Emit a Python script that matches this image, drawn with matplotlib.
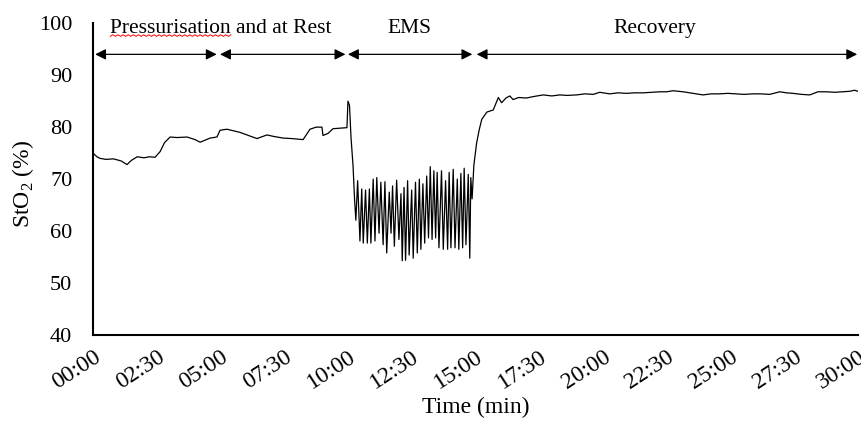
import numpy as np
import matplotlib.pyplot as plt

plt.rcParams['font.family'] = ['Liberation Serif', 'DejaVu Serif']
plt.rcParams['mathtext.fontset'] = 'custom'
plt.rcParams['mathtext.rm'] = 'Liberation Serif'

# Data (time in minutes, StO2 in %)
rest_t = [0.0, 0.15, 0.27, 0.5, 0.8, 1.1, 1.33, 1.5, 1.73, 2.0, 2.2, 2.43, 2.63, 2.8,
          3.02, 3.3, 3.69, 4.0, 4.2, 4.4, 4.59, 4.86, 4.98, 5.25, 5.5, 5.76, 6.1,
          6.43, 6.82, 7.1, 7.45, 7.8, 8.24, 8.35, 8.51, 8.75, 8.98, 9.02, 9.22,
          9.41, 9.7, 9.96, 10.0, 10.06, 10.12, 10.2, 10.26, 10.31]
rest_v = [75.0, 74.3, 74.0, 73.8, 73.9, 73.5, 72.8, 73.6, 74.3, 74.1, 74.3, 74.2, 75.3, 77.0,
          78.1, 78.0, 78.1, 77.6, 77.1, 77.5, 77.9, 78.1, 79.4, 79.6, 79.3, 79.0, 78.4,
          77.8, 78.5, 78.2, 77.9, 77.8, 77.6, 78.4, 79.6, 80.0, 80.0, 78.4, 78.8,
          79.7, 79.8, 79.9, 85.0, 84.2, 78.0, 72.5, 66.0, 62.1]

ems_t = [10.38, 10.47, 10.54, 10.60, 10.69, 10.76, 10.84, 10.90, 10.99, 11.06,
         11.13, 11.22, 11.29, 11.38, 11.45, 11.52, 11.62, 11.69, 11.75, 11.82,
         11.91, 12.00, 12.08, 12.13, 12.20, 12.26, 12.34, 12.40, 12.50, 12.56,
         12.65, 12.72, 12.80, 12.86, 12.94, 13.01, 13.09, 13.16, 13.23, 13.30,
         13.37, 13.44, 13.50, 13.57, 13.67, 13.74, 13.83, 13.91, 13.97, 14.04,
         14.13, 14.20, 14.29, 14.35, 14.43, 14.50, 14.56, 14.63, 14.72, 14.78,
         14.82, 14.87, 14.94]
ems_v = [69.7, 58.1, 68.1, 57.7, 67.9, 57.7, 68.1, 57.7, 70.0, 58.1,
         70.3, 59.6, 69.4, 57.4, 69.5, 55.8, 67.5, 59.6, 68.7, 57.1,
         69.8, 58.4, 67.2, 54.3, 68.4, 54.4, 69.7, 55.4, 67.9, 54.8,
         69.4, 55.8, 70.0, 56.5, 69.1, 57.7, 70.6, 58.7, 72.4, 58.4,
         71.6, 58.7, 71.3, 56.8, 71.6, 56.5, 69.7, 56.5, 71.3, 56.8,
         71.9, 56.8, 70.0, 56.5, 71.1, 56.8, 72.1, 57.4, 70.9, 54.8,
         70.3, 66.2, 72.7]

rec_t = [15.05, 15.15, 15.25, 15.45, 15.7, 15.9, 16.03, 16.2, 16.35, 16.48, 16.7,
         17.0, 17.3, 17.66, 18.0, 18.31, 18.6, 18.97, 19.3, 19.62, 19.88, 20.27,
         20.6, 20.93, 21.25, 21.58, 21.9, 22.24, 22.5, 22.76, 23.15, 23.54, 23.93,
         24.25, 24.59, 24.9, 25.24, 25.55, 25.89, 26.2, 26.55, 26.94, 27.2, 27.46,
         27.8, 28.12, 28.44, 28.77, 29.1, 29.42, 29.7, 29.88, 30.0]
rec_v = [77.0, 79.5, 81.5, 82.9, 83.3, 85.7, 84.7, 85.6, 86.0, 85.3, 85.7,
         85.6, 85.9, 86.2, 86.0, 86.2, 86.1, 86.2, 86.4, 86.3, 86.7, 86.4,
         86.6, 86.5, 86.6, 86.6, 86.7, 86.8, 86.8, 87.0, 86.8, 86.5, 86.2,
         86.4, 86.4, 86.5, 86.4, 86.3, 86.4, 86.4, 86.3, 86.8, 86.6, 86.5,
         86.3, 86.2, 86.8, 86.8, 86.7, 86.8, 86.9, 87.1, 86.9]

phase_names = ['Pressurisation and at Rest', 'EMS', 'Recovery']
phase_label_x = [5.02, 12.43, 22.05]
arrow_spans = [(0.08, 4.85), (4.98, 9.9), (10.0, 14.88), (15.05, 29.98)]

xticks = np.arange(0, 30.01, 2.5)
xtick_labels = ['00:00', '02:30', '05:00', '07:30', '10:00', '12:30', '15:00',
                '17:30', '20:00', '22:30', '25:00', '27:30', '30:00']


def main():
    t = np.concatenate([rest_t, ems_t, rec_t])
    v = np.concatenate([rest_v, ems_v, rec_v])

    fig = plt.figure(figsize=(8.62, 4.21), dpi=100)
    ax = fig.add_axes([0.108, 0.204, 0.887, 0.741])
    ax.plot(t, v, color='black', lw=0.9)

    ax.set_xlim(0, 30)
    ax.set_ylim(40, 100)
    ax.set_xticks(xticks)
    ax.set_xticklabels(xtick_labels, rotation=33, ha='right', rotation_mode='anchor',
                       fontsize=17)
    ax.set_yticks(np.arange(40, 101, 10))
    ax.tick_params(axis='y', length=0, labelsize=16, pad=15)
    ax.tick_params(axis='x', length=0, pad=8)
    for s in ['top', 'right']:
        ax.spines[s].set_visible(False)
    for s in ['left', 'bottom']:
        ax.spines[s].set_linewidth(1.5)
    ax.set_xlabel('Time (min)', fontsize=17, labelpad=3)
    ax.set_ylabel('StO$_2$ (%)', fontsize=17)
    ax.yaxis.set_label_coords(-0.075, 0.485)

    for a, b in arrow_spans:
        ax.annotate('', xy=(b, 94), xytext=(a, 94),
                    arrowprops=dict(arrowstyle='<|-|>', color='black', lw=0.9,
                                    mutation_scale=16, shrinkA=0, shrinkB=0))
    txts = []
    for name, x in zip(phase_names, phase_label_x):
        txts.append(ax.text(x, 99.0, name, ha='center', va='center', fontsize=15.5))

    # red spell-check squiggle under "Pressurisation"
    fig.canvas.draw()
    r = fig.canvas.get_renderer()
    bb = txts[0].get_window_extent(r)
    probe = fig.text(0, 0, 'Pressurisation', fontsize=15.5)
    w = probe.get_window_extent(r).width
    probe.remove()
    xs = np.linspace(bb.x0, bb.x0 + w, int(w / 2.5))
    ys = bb.y0 + 1.5 + np.where(np.arange(xs.size) % 2 == 0, 0, 1.6)
    inv = fig.transFigure.inverted()
    pts = inv.transform(np.column_stack([xs, ys]))
    fig.add_artist(plt.Line2D(pts[:, 0], pts[:, 1], color='red', lw=0.7))

    fig.savefig('out.png', dpi=100)
    return 0


main()
